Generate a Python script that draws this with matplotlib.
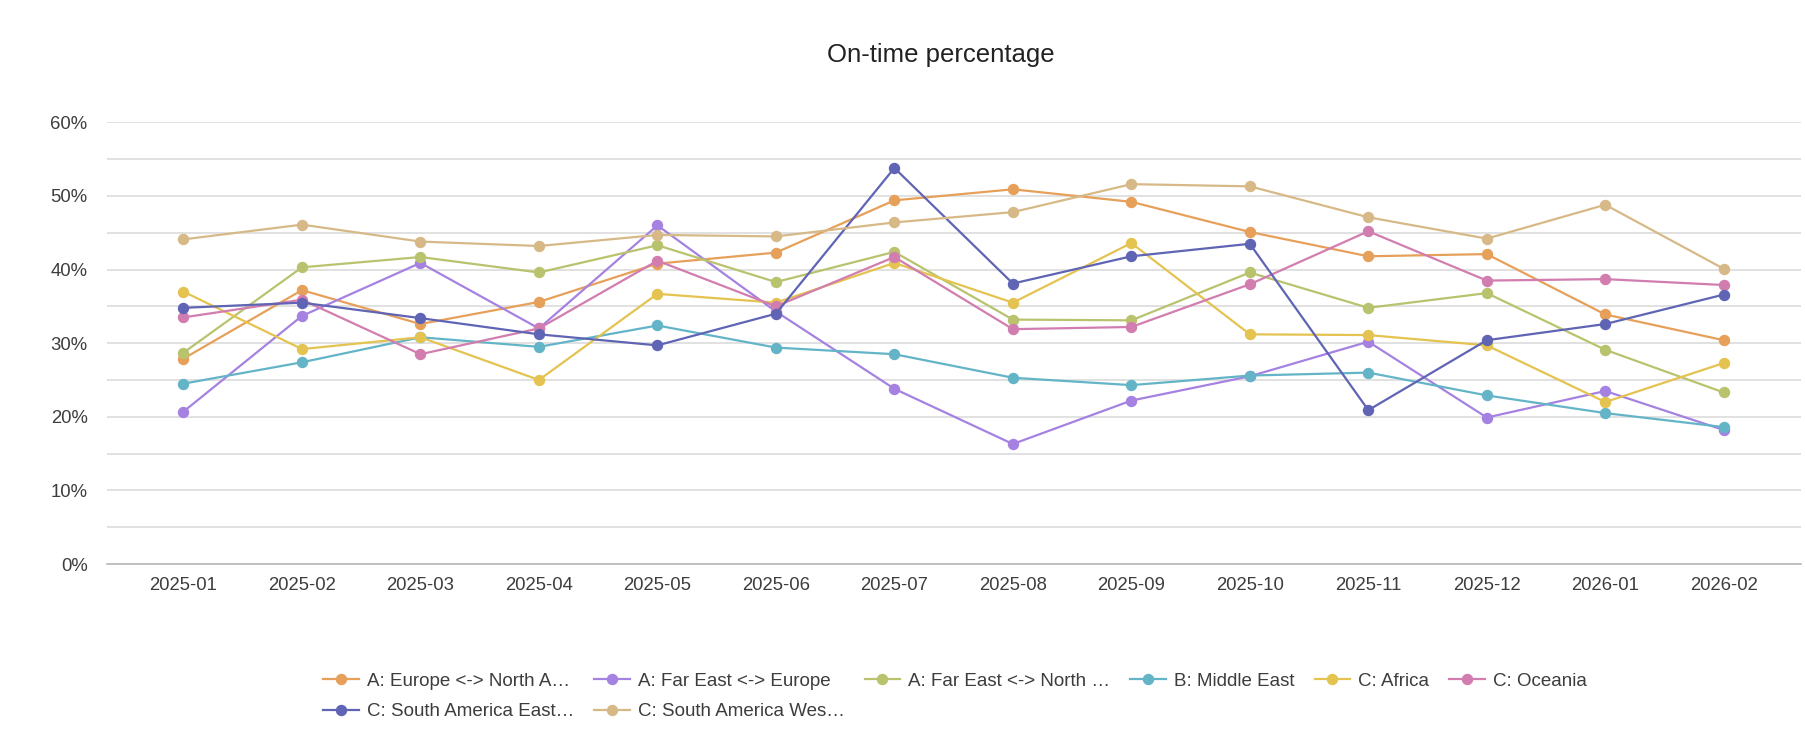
import matplotlib
matplotlib.use("Agg")
import matplotlib.pyplot as plt
from matplotlib.ticker import MultipleLocator, PercentFormatter

plt.rcParams['font.family'] = ['Liberation Sans', 'DejaVu Sans']

# --- Data (on-time %) ---
months = ['2025-01', '2025-02', '2025-03', '2025-04', '2025-05', '2025-06', '2025-07',
          '2025-08', '2025-09', '2025-10', '2025-11', '2025-12', '2026-01', '2026-02']

europe_na = [27.9, 37.2, 32.6, 35.6, 40.8, 42.3, 49.4, 50.9, 49.2, 45.1, 41.8, 42.1, 33.9, 30.4]
far_east_europe = [20.7, 33.7, 40.9, 32.0, 46.0, 34.3, 23.8, 16.3, 22.2, 25.5, 30.2, 19.9, 23.5, 18.2]
far_east_na = [28.7, 40.3, 41.7, 39.6, 43.3, 38.3, 42.4, 33.2, 33.1, 39.6, 34.8, 36.8, 29.1, 23.3]
middle_east = [24.5, 27.4, 30.8, 29.5, 32.4, 29.4, 28.5, 25.3, 24.3, 25.6, 26.0, 22.9, 20.5, 18.6]
africa = [37.0, 29.2, 30.8, 25.0, 36.7, 35.5, 40.9, 35.5, 43.6, 31.2, 31.1, 29.7, 22.0, 27.3]
oceania = [33.5, 35.9, 28.5, 32.0, 41.2, 35.0, 41.7, 31.9, 32.2, 38.0, 45.2, 38.5, 38.7, 37.9]
sa_east = [34.8, 35.5, 33.4, 31.2, 29.7, 34.0, 53.8, 38.1, 41.8, 43.5, 20.9, 30.4, 32.6, 36.6]
sa_west = [44.1, 46.1, 43.8, 43.2, 44.7, 44.5, 46.4, 47.8, 51.6, 51.3, 47.1, 44.2, 48.8, 40.1]

labels = ['A: Europe <-> North A…', 'A: Far East <-> Europe', 'A: Far East <-> North …',
          'B: Middle East', 'C: Africa', 'C: Oceania',
          'C: South America East…', 'C: South America Wes…']
series = [europe_na, far_east_europe, far_east_na, middle_east, africa, oceania, sa_east, sa_west]
colors = ['#E6A05A', '#A582E1', '#B9C36E', '#64B4C8', '#E4C350', '#D27DAF', '#5F64B4', '#D7B987']

text_color = '#3d3d3d'

fig = plt.figure(figsize=(18.05, 7.32), dpi=100)
ax = fig.add_axes([0.0593, 0.2295, 0.9387, 0.6034])

x = list(range(len(months)))
handles = []
for vals, lab, col in zip(series, labels, colors):
    h, = ax.plot(x, vals, color=col, linewidth=1.6, marker='o', markersize=7.2,
                 label=lab, solid_joinstyle='round')
    handles.append(h)

ax.set_xlim(-0.645, 13.655)
ax.set_ylim(0, 60)
ax.set_xticks(x)
ax.set_xticklabels(months)
ax.yaxis.set_major_locator(MultipleLocator(10))
ax.yaxis.set_minor_locator(MultipleLocator(5))
ax.yaxis.set_major_formatter(PercentFormatter(decimals=0))

ax.grid(True, axis='y', which='both', color='#d9d9d9', linewidth=1.1)
ax.set_axisbelow(True)
for side in ['top', 'right', 'left']:
    ax.spines[side].set_visible(False)
ax.spines['bottom'].set_color('#b8b8b8')
ax.spines['bottom'].set_linewidth(1.2)

ax.tick_params(axis='both', which='both', length=0, labelsize=13.3, labelcolor=text_color)
ax.tick_params(axis='x', pad=9)
ax.tick_params(axis='y', pad=14)

fig.text(0.521, 0.925, 'On-time percentage', ha='center', va='center',
         fontsize=18.5, color='#222222')

# legend fills column-wise, so reorder to get a row-wise flow
order = [0, 6, 1, 7, 2, 3, 4, 5]
fig.legend([handles[i] for i in order], [labels[i] for i in order],
           loc='upper center', bbox_to_anchor=(0.529, 0.081), ncol=6, frameon=False,
           fontsize=13.5, labelcolor=text_color, handlelength=1.9, handletextpad=0.43,
           columnspacing=1.07, labelspacing=0.72, borderaxespad=0, borderpad=0)

fig.savefig('out.png', dpi=100)
